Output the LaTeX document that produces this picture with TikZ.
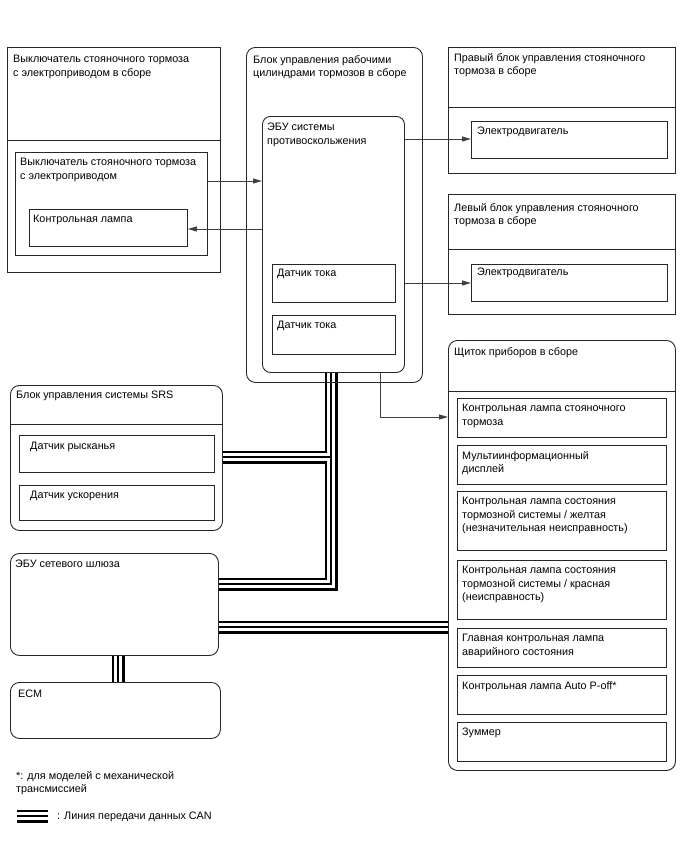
\documentclass[tikz,border=0pt]{standalone}
\usepackage{fontspec}
\setmainfont{Liberation Sans}
\usetikzlibrary{arrows.meta}
\pgfdeclarelayer{bg}
\pgfsetlayers{bg,main}
\newcommand\mkbox[6]{\node[#2, minimum width={#5-#3}, minimum height={#6-#4}, anchor=north west, inner sep=0pt] (#1) at (#3,#4) {};}
\begin{document}
\begin{tikzpicture}[x=1pt,y=-1pt,
  box/.style={draw=black!85, line width=0.9pt},
  rbox/.style={box, rounded corners=9pt},
  lbl/.style={anchor=north west, inner sep=0pt, align=left, font=\fontsize{10.8pt}{13.5pt}\selectfont},
  sig/.style={draw=black!75, line width=0.9pt, -{Triangle[length=9pt,width=5pt]}},
  can/.style={line width=13pt, line join=miter, postaction={draw, white, line width=7.5pt}, postaction={draw, black, line width=1.3pt}}]
\useasboundingbox (0,0) rectangle (688,852);
% boxes
\mkbox{b1}{box}{7}{47}{220}{272}
\mkbox{sw}{box}{15}{152}{207}{255}
\mkbox{lamp}{box}{29}{209}{187}{246}
\mkbox{blk}{rbox}{246}{47}{422}{382}
\mkbox{ecu}{box, rounded corners=8pt}{262}{116}{404}{372}
\mkbox{cs1}{box}{272}{264}{395}{302}
\mkbox{cs2}{box}{272}{315}{395}{354}
\mkbox{rb}{box}{448}{47}{675}{173}
\mkbox{rm}{box}{471}{121}{667}{158}
\mkbox{lb}{box}{448}{194}{675}{314}
\mkbox{lm}{box}{471}{264}{667}{301}
\mkbox{meter}{rbox}{448}{340}{675}{770}
\mkbox{m1}{box}{457}{398}{666}{437}
\mkbox{m2}{box}{457}{445}{666}{484}
\mkbox{m3}{box}{457}{491}{666}{550}
\mkbox{m4}{box}{457}{560}{666}{619}
\mkbox{m5}{box}{457}{628}{666}{667}
\mkbox{m6}{box}{457}{675}{666}{714}
\mkbox{m7}{box}{457}{722}{666}{761}
\mkbox{srs}{rbox}{10}{385}{222}{530}
\mkbox{yaw}{box}{19}{435}{214}{472}
\mkbox{acc}{box}{19}{485}{214}{520}
\mkbox{gw}{rbox}{10}{553}{218}{655}
\mkbox{ecm}{rbox}{10}{682}{220}{738}
% CAN lines (behind box outlines)
\begin{pgfonlayer}{bg}
\draw[can] (ecu.south -| 331,0) -- (331,584) -- (gw.east |- 0,584)
           (331,457) -- (srs.east |- 0,457);
\draw[can] (gw.east |- 0,627) -- (meter.west |- 0,627);
\draw[can] (gw.south -| 118,0) -- (ecm.north -| 118,0);
\end{pgfonlayer}
\coordinate (lg1) at (17,816);
\coordinate (lg2) at (48,816);
\draw[can] (lg1) -- (lg2);
% dividers
\draw[box] (b1.west |- 0,140) -- (b1.east |- 0,140);
\draw[box] (rb.west |- 0,107) -- (rb.east |- 0,107);
\draw[box] (lb.west |- 0,249) -- (lb.east |- 0,249);
\draw[box] (meter.west |- 0,391) -- (meter.east |- 0,391);
\draw[box] (srs.west |- 0,424) -- (srs.east |- 0,424);
% signal arrows
\draw[sig] (sw.east |- 0,181) -- (ecu.west |- 0,181);
\draw[sig] (ecu.west |- 0,229) -- (lamp.east |- 0,229);
\draw[sig] (ecu.east |- 0,139) -- (rm.west |- 0,139);
\draw[sig] (ecu.east |- 0,283) -- (lm.west |- 0,283);
\draw[sig] (ecu.south -| 380,0) |- (meter.west |- 0,417);
% labels
\node[lbl] (t1) at (13,55) {Выключатель стояночного тормоза\\с электроприводом в сборе};
\node[lbl] (t2) at (20,158) {Выключатель стояночного тормоза\\с электроприводом};
\node[lbl] (t3) at (33,215) {Контрольная лампа};
\node[lbl] (t4) at (253,55) {Блок управления рабочими\\цилиндрами тормозов в сборе};
\node[lbl] (t5) at (267,123) {ЭБУ системы\\противоскольжения};
\node[lbl] (t6) at (277,269) {Датчик тока};
\node[lbl] (t7) at (277,321) {Датчик тока};
\node[lbl] (t8) at (454,53) {Правый блок управления стояночного\\тормоза в сборе};
\node[lbl] (t9) at (477,127) {Электродвигатель};
\node[lbl] (t10) at (454,203) {Левый блок управления стояночного\\тормоза в сборе};
\node[lbl] (t11) at (477,268) {Электродвигатель};
\node[lbl] (t12) at (454,347) {Щиток приборов в сборе};
\node[lbl] (t13) at (462,404) {Контрольная лампа стояночного\\тормоза};
\node[lbl] (t14) at (462,451) {Мультиинформационный\\дисплей};
\node[lbl] (t15) at (462,497) {Контрольная лампа состояния\\тормозной системы / желтая\\(незначительная неисправность)};
\node[lbl] (t16) at (462,566) {Контрольная лампа состояния\\тормозной системы / красная\\(неисправность)};
\node[lbl] (t17) at (462,634) {Главная контрольная лампа\\аварийного состояния};
\node[lbl] (t18) at (462,681) {Контрольная лампа Auto P-off*};
\node[lbl] (t19) at (462,728) {Зуммер};
\node[lbl] (t20) at (16,391) {Блок управления системы SRS};
\node[lbl] (t21) at (30,442) {Датчик рысканья};
\node[lbl] (t22) at (30,491) {Датчик ускорения};
\node[lbl] (t23) at (15,560) {ЭБУ сетевого шлюза};
\node[lbl] (t24) at (18,690) {ECM};
\node[lbl] (t25) at (16,771) {*: для моделей с механической\\трансмиссией};
\node[lbl] (t26) at (57,812) {: Линия передачи данных CAN};
\end{tikzpicture}
\end{document}
